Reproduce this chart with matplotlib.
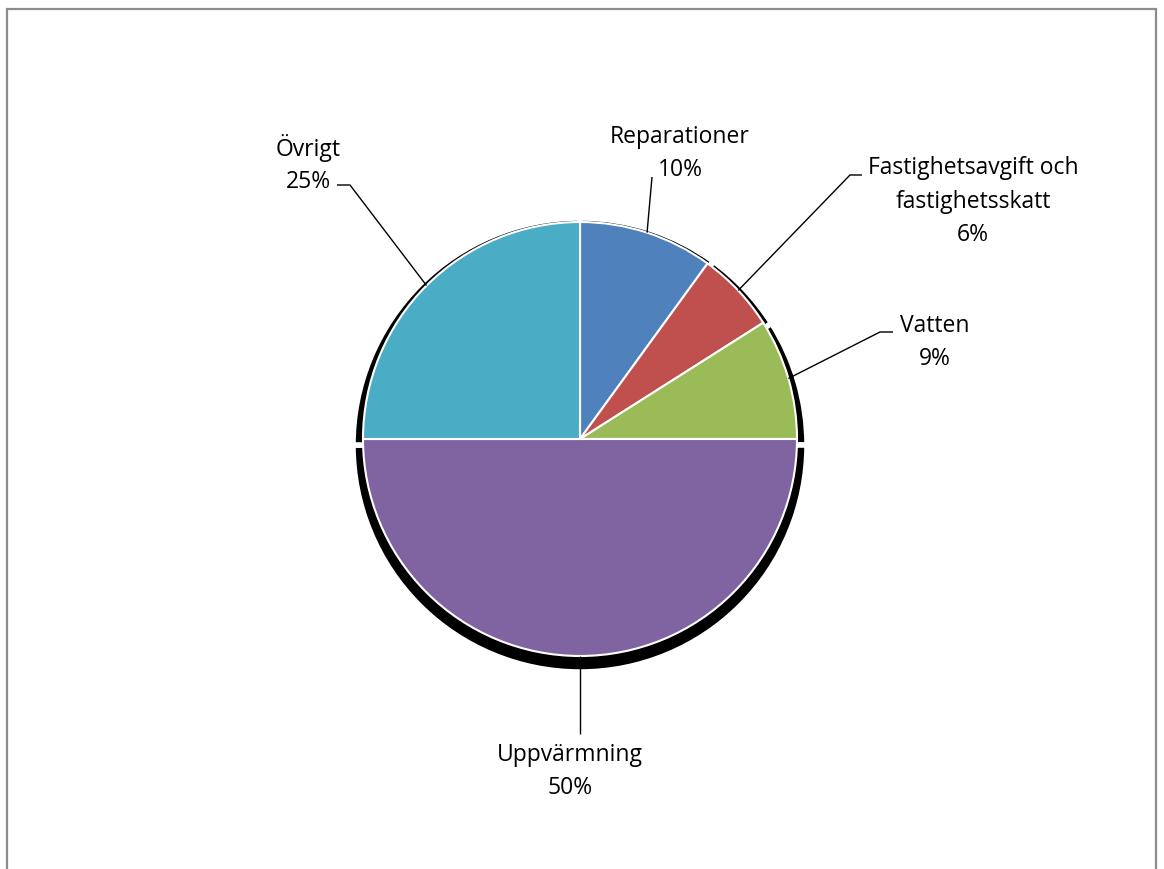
import matplotlib
matplotlib.use("Agg")
import matplotlib.pyplot as plt
import numpy as np
from matplotlib.patches import Rectangle

# driftskostnader, andel i procent
labels = ["Reparationer", "Fastighetsavgift och\nfastighetsskatt", "Vatten",
          "Uppvärmning", "Övrigt"]
values = [10, 6, 9, 50, 25]
colors = ["#4F81BD", "#C0504D", "#9BBB59", "#8064A2", "#4BACC6"]

W, H = 1164, 870
fig = plt.figure(figsize=(W / 100, H / 100), dpi=100)
ax = fig.add_axes([0, 0, 1, 1])

cx, cy, r = 580, H - 440, 217

# shadow: slightly larger, pushed down (white edges eat ~3px of the rim)
ax.pie(values, center=(cx, cy - 6), radius=227, startangle=90,
       counterclock=False, colors=["black"] * len(values),
       wedgeprops=dict(edgecolor="white", linewidth=4), frame=True)
wedges, _ = ax.pie(values, center=(cx, cy), radius=r, startangle=90,
                   counterclock=False, colors=colors,
                   wedgeprops=dict(edgecolor="white", linewidth=1.5), frame=True)
ax.set_xlim(0, W); ax.set_ylim(0, H)
ax.set_aspect("equal"); ax.axis("off")

# label anchor (text centre of first line) and leader elbow, in pixel coords
text_pos = [(680, 137), (973, 168), (935, 326), (570, 755), (308, 148)]
elbows = [[(652, 178)], [(862, 176), (850, 176)], [(893, 333), (880, 333)],
          [(580, 735)], [(337, 186), (350, 186)]]

for w, lab, v, (tx, ty), el in zip(wedges, labels, values, text_pos, elbows):
    mid = np.deg2rad((w.theta1 + w.theta2) / 2)
    ex, ey = cx + r * np.cos(mid), cy + r * np.sin(mid)
    pts = [(x, H - y) for x, y in el] + [(ex, ey)]
    ax.plot([p[0] for p in pts], [p[1] for p in pts], color="black", lw=1.0,
            solid_capstyle="butt")
    for i, line in enumerate(lab.split("\n") + [f"{v}%"]):
        ax.text(tx, H - ty - 33.5 * i, line, ha="center", va="center",
                fontsize=16.5, family="Open Sans")

# chart area border (bottom edge lies outside the image)
ax.add_patch(Rectangle((7, -20), 1149, H - 10 + 20, fill=False,
                       edgecolor="#8C8C8C", lw=1.6))

fig.savefig("out.png", dpi=100)
